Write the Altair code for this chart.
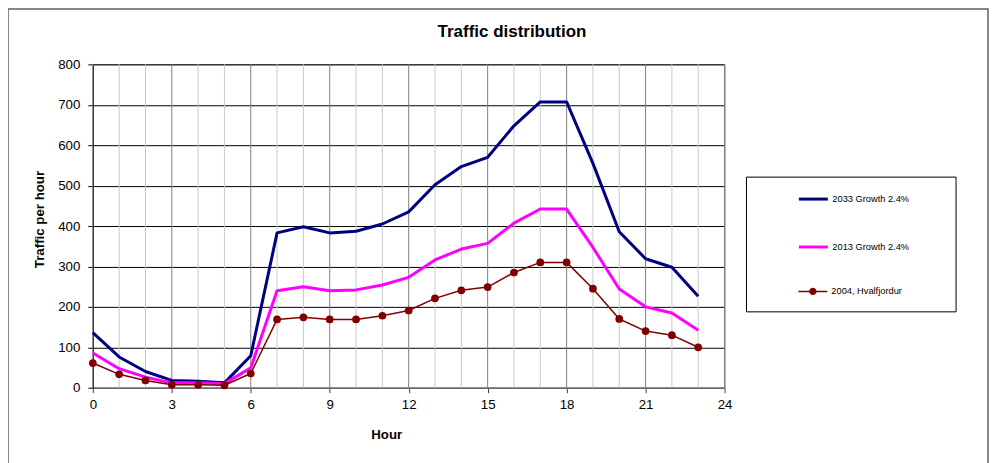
import altair as alt
import pandas as pd

hours = list(range(24))
series_names = ["2033 Growth 2.4%", "2013 Growth 2.4%", "2004, Hvalfjordur"]
series_colors = ["#000080", "#FF00FF", "#800000"]
y2033 = [136, 76, 40, 18, 16, 12, 79, 383, 398, 383, 387, 405, 435, 502, 547, 570, 648, 707, 707, 555, 386, 319, 298, 226]
y2013 = [86, 47, 26, 12, 12, 10, 49, 240, 250, 240, 242, 254, 273, 316, 343, 357, 407, 442, 442, 347, 244, 200, 185, 142]
y2004 = [61, 33, 18, 7, 7, 6, 35, 169, 174, 169, 169, 178, 191, 221, 241, 249, 285, 310, 310, 245, 170, 140, 130, 100]
x_grid = list(range(25))
x_ticks = list(range(0, 25, 3))
y_ticks = list(range(0, 801, 100))

rows = []
for name, vals in zip(series_names, [y2033, y2013, y2004]):
    for h, v in zip(hours, vals):
        rows.append({"hour": h, "traffic": v, "series": name})
df = pd.DataFrame(rows)
grid_df = pd.DataFrame({"hour": x_grid, "major": [h % 3 == 0 for h in x_grid]})

FONT = "Liberation Sans"
RED = series_names[2]
dot_path = "M-1,0L1,0M-0.2,0A0.2,0.2,0,1,1,0.2,0A0.2,0.2,0,1,1,-0.2,0Z"

x_scale = alt.Scale(domain=[0, 24], nice=False, zero=False)
y_scale = alt.Scale(domain=[0, 800], nice=False)

x_enc = alt.X(
    "hour:Q",
    scale=x_scale,
    axis=alt.Axis(
        values=x_ticks,
        title="Hour",
        titleFont=FONT, titleFontSize=13.3, titleFontWeight="bold", titleColor="black",
        titleX=294, titleY=47, titleAlign="center", titleBaseline="middle",
        labelFont=FONT, labelFontSize=13.3, labelColor="black", labelPadding=5,
        labelFlush=False, labelOverlap=False,
        tickSize=5, tickColor="#404040",
        domainColor="#808080",
        grid=False,
    ),
)
y_enc = alt.Y(
    "traffic:Q",
    scale=y_scale,
    axis=alt.Axis(
        values=y_ticks,
        title="Traffic per hour",
        titleFont=FONT, titleFontSize=13.3, titleFontWeight="bold", titleColor="black",
        titleX=-53, titleY=155, titleAlign="center", titleBaseline="middle", titleAngle=-90,
        labelFont=FONT, labelFontSize=13.3, labelColor="black", labelPadding=8,
        tickSize=5, tickColor="black", domainColor="black",
        grid=True, gridColor="black", gridWidth=1,
    ),
)

common_legend = dict(
    title=None, orient="none", legendX=655, direction="vertical",
    padding=6, symbolOffset=45, labelOffset=3,
    labelFont=FONT, labelFontSize=9.3, labelColor="black",
    strokeColor="transparent", fillColor="transparent", symbolSize=841,
)
legend_a = alt.Legend(legendY=113, rowPadding=26, symbolType="stroke",
                      symbolStrokeWidth=3, **common_legend)
legend_b = alt.Legend(legendY=206, symbolType=dot_path, symbolStrokeWidth=1.5,
                      symbolFillColor="#800000", **common_legend)

vgrid = alt.Chart(grid_df).mark_rule(strokeWidth=1).encode(
    x=alt.X("hour:Q", scale=x_scale),
    color=alt.condition(alt.datum.major, alt.value("#808080"), alt.value("#c8c8c8")),
)

base = alt.Chart(df)

thick_lines = base.transform_filter(alt.datum.series != RED).mark_line(
    strokeWidth=3, strokeJoin="round"
).encode(
    x=x_enc,
    y=y_enc,
    color=alt.Color("series:N", scale=alt.Scale(domain=series_names[:2], range=series_colors[:2]),
                    sort=series_names[:2], legend=legend_a),
    order=alt.Order("hour:Q"),
)

red_line = base.transform_filter(alt.datum.series == RED).mark_line(
    strokeWidth=1.5, strokeJoin="round"
).encode(
    x="hour:Q",
    y="traffic:Q",
    stroke=alt.Stroke("series:N", scale=alt.Scale(domain=[RED], range=[series_colors[2]]),
                      legend=legend_b),
    order=alt.Order("hour:Q"),
)

points = base.transform_filter(alt.datum.series == RED).mark_point(
    filled=True, size=60, opacity=1, color="#800000"
).encode(x="hour:Q", y="traffic:Q")

legend_box = alt.Chart(alt.Data(values=[{}])).mark_rect(
    fill="white", stroke="black", strokeWidth=1
).encode(x=alt.value(655), x2=alt.value(865), y=alt.value(113), y2=alt.value(248))

frame = alt.Chart(alt.Data(values=[{}])).mark_rect(
    fill=None, stroke="#606060", strokeWidth=1.5
).encode(x=alt.value(-85), x2=alt.value(897), y=alt.value(-55.5), y2=alt.value(420))

title = alt.Chart(alt.Data(values=[{}])).mark_text(
    text="Traffic distribution", font=FONT, fontSize=17, fontWeight="bold",
    color="black", align="center", baseline="middle"
).encode(x=alt.value(420), y=alt.value(-32.5))

chart = alt.layer(frame, legend_box, title, vgrid, thick_lines, red_line, points).properties(
    width=633, height=324,
    autosize=alt.AutoSizeParams(type="none"),
    padding={"left": 85, "top": 56, "right": 265, "bottom": 75},
    background="white",
).configure_view(stroke="#808080", strokeWidth=1)

chart.save("out.html", embed_options={"renderer": "svg", "actions": False})
